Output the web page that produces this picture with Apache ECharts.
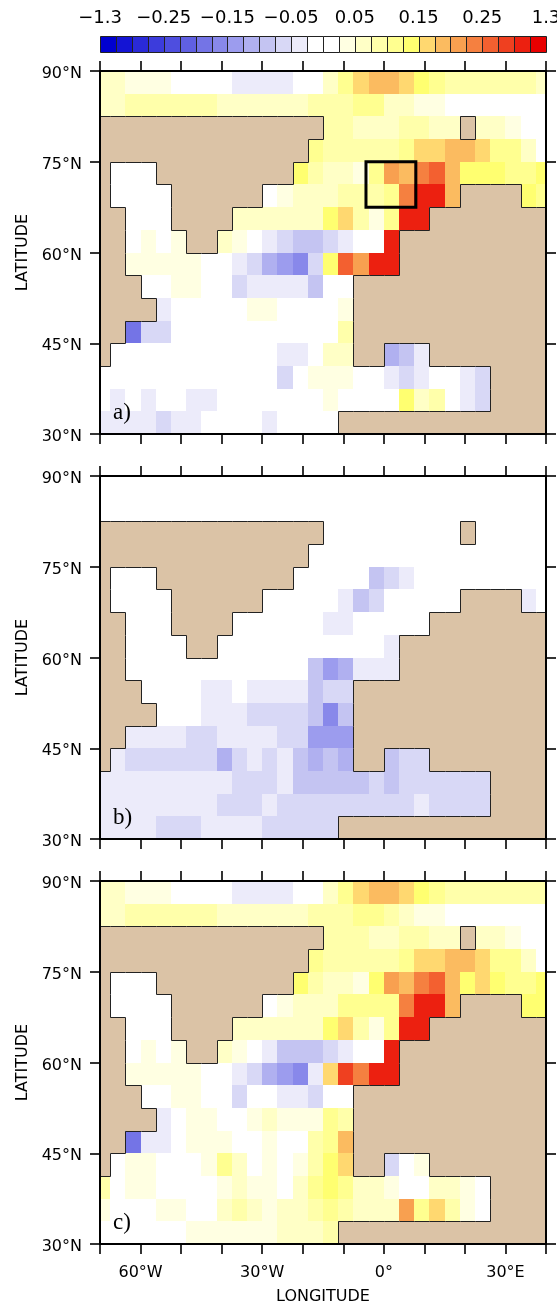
<!DOCTYPE html>
<html>
<head>
<meta charset="utf-8">
<style>html,body{margin:0;padding:0;background:#fff}#c{width:557px;height:1303px}</style>
<script src="https://cdn.jsdelivr.net/npm/echarts@6/dist/echarts.min.js"></script>
</head>
<body>
<div id="c"></div>
<script>
const L = null; // land cell
const lonEdges = [-71.25,-67.5,-63.75,-60,-56.25,-52.5,-48.75,-45,-41.25,-37.5,-33.75,-30,-26.25,-22.5,-18.75,-15,-11.25,-7.5,-3.75,0,3.75,7.5,11.25,15,18.75,22.5,26.25,30,33.75,37.5,41.25];
const latEdges = [90,86.25,82.5,78.75,75,71.25,67.5,63.75,60,56.25,52.5,48.75,45,41.25,37.5,33.75,30];
const colorbarLabels = ['\u22121.3','\u22120.25','\u22120.15','\u22120.05','0.05','0.15','0.25','1.3'];
const palette = ['#0000d0','#1414d4','#2a2ad8','#3c3cdc','#4e4edf','#6060e2','#7474e6','#8888ea','#9c9cee','#b0b0f0','#c4c4f2','#d8d8f6','#ecebfa','#ffffff','#ffffff','#ffffe2','#ffffc6','#ffffaa','#ffff90','#ffff70','#ffd870','#fbbb60','#f8a050','#f58040','#f36030','#ef4020','#ec2010','#e80000'];
const landColor = '#dbc3a6';
// values in hundredths
const panelA = [
[6,6,4,4,4,0,0,0,0,-4,-4,-4,-4,0,0,6,11,16,19,19,16,14,11,9,9,9,9,9,9,6],
[6,6,9,9,9,9,9,9,6,6,6,6,6,6,9,9,9,11,11,6,6,4,4,0,0,0,0,0,0,0],
[L,L,L,L,L,L,L,L,L,L,L,L,L,L,L,9,9,6,6,6,9,9,6,6,L,6,6,4,0,0],
[L,L,L,L,L,L,L,L,L,L,L,L,L,L,11,9,9,9,9,9,11,16,16,19,19,16,11,11,6,0],
[L,0,0,0,L,L,L,L,L,L,L,L,L,14,9,6,6,4,11,21,19,24,26,19,14,14,14,11,11,14],
[L,0,0,0,0,L,L,L,L,L,L,0,4,6,6,6,9,9,9,11,24,31,31,19,L,L,L,L,14,11],
[L,L,0,0,0,L,L,L,L,6,6,6,6,6,6,14,16,9,4,11,31,31,L,L,L,L,L,L,L,L],
[L,L,0,4,0,4,L,L,6,4,0,-4,-6,-9,-9,-6,-4,0,0,31,L,L,L,L,L,L,L,L,L,L],
[L,L,4,4,4,4,4,0,0,-4,-6,-11,-14,-16,-6,14,26,21,31,31,L,L,L,L,L,L,L,L,L,L],
[L,L,L,0,0,4,4,0,0,-6,-4,-4,-4,-4,-9,0,0,L,L,L,L,L,L,L,L,L,L,L,L,L],
[L,L,L,L,-4,0,0,0,0,0,4,4,0,0,0,0,4,L,L,L,L,L,L,L,L,L,L,L,L,L],
[L,L,-19,-6,-6,0,0,0,0,0,0,0,0,0,0,0,9,L,L,L,L,L,L,L,L,L,L,L,L,L],
[L,0,0,0,0,0,0,0,0,0,0,0,-4,-4,0,6,6,L,L,-11,-9,-4,L,L,L,L,L,L,L,L],
[0,0,0,0,0,0,0,0,0,0,0,0,-6,0,4,4,4,0,0,-4,-6,-4,0,0,-4,-6,L,L,L,L],
[0,-4,0,-4,0,0,-4,-4,0,0,0,0,0,0,0,4,0,0,0,0,14,6,9,0,-4,-6,L,L,L,L],
[-4,-4,-4,-4,-6,-4,-4,0,0,0,0,-4,0,0,0,0,L,L,L,L,L,L,L,L,L,L,L,L,L,L]
];
const panelB = [
[0,0,0,0,0,0,0,0,0,0,0,0,0,0,0,0,0,0,0,0,0,0,0,0,0,0,0,0,0,0],
[0,0,0,0,0,0,0,0,0,0,0,0,0,0,0,0,0,0,0,0,0,0,0,0,0,0,0,0,0,0],
[L,L,L,L,L,L,L,L,L,L,L,L,L,L,L,0,0,0,0,0,0,0,0,0,L,0,0,0,0,0],
[L,L,L,L,L,L,L,L,L,L,L,L,L,L,0,0,0,0,0,0,0,0,0,0,0,0,0,0,0,0],
[L,0,0,0,L,L,L,L,L,L,L,L,L,0,0,0,0,0,-9,-6,-4,0,0,0,0,0,0,0,0,0],
[L,0,0,0,0,L,L,L,L,L,L,0,0,0,0,0,-4,-9,-6,0,0,0,0,0,L,L,L,L,-4,0],
[L,L,0,0,0,L,L,L,L,0,0,0,0,0,0,-4,-4,0,0,0,0,0,L,L,L,L,L,L,L,L],
[L,L,0,0,0,0,L,L,0,0,0,0,0,0,0,0,0,0,0,-4,L,L,L,L,L,L,L,L,L,L],
[L,L,0,0,0,0,0,0,0,0,0,0,0,0,-9,-14,-11,-4,-4,-4,L,L,L,L,L,L,L,L,L,L],
[L,L,L,0,0,0,0,-4,-4,0,-4,-4,-4,-4,-9,-6,-6,L,L,L,L,L,L,L,L,L,L,L,L,L],
[L,L,L,L,0,0,0,-4,-4,-4,-6,-6,-6,-6,-9,-16,-9,L,L,L,L,L,L,L,L,L,L,L,L,L],
[L,L,-4,-4,-4,-4,-6,-6,-4,-4,-4,-4,-6,-6,-14,-14,-14,L,L,L,L,L,L,L,L,L,L,L,L,L],
[L,-4,-6,-6,-6,-6,-6,-6,-11,-6,-4,-6,-4,-9,-11,-9,-11,L,L,-9,-6,-6,L,L,L,L,L,L,L,L],
[-4,-4,-4,-4,-4,-4,-4,-4,-4,-6,-6,-6,-4,-9,-9,-9,-9,-9,-6,-9,-6,-6,-6,-6,-6,-6,L,L,L,L],
[-4,-4,-4,-4,-4,-4,-4,-4,-6,-6,-6,-4,-6,-6,-6,-6,-6,-6,-6,-6,-6,-4,-6,-6,-6,-6,L,L,L,L],
[-4,-4,-4,-4,-6,-6,-6,-4,-4,-4,-4,-6,-6,-6,-6,-6,L,L,L,L,L,L,L,L,L,L,L,L,L,L]
];
const panelC = [
[6,6,4,4,4,0,0,0,0,-4,-4,-4,-4,0,0,6,11,16,19,19,16,14,11,9,9,9,9,9,9,9],
[6,6,9,9,9,9,9,9,6,6,6,6,6,6,9,9,9,11,11,9,6,4,4,0,0,0,0,0,0,0],
[L,L,L,L,L,L,L,L,L,L,L,L,L,L,L,9,9,9,6,6,9,9,6,6,L,6,6,4,0,0],
[L,L,L,L,L,L,L,L,L,L,L,L,L,L,11,9,9,9,9,9,11,16,16,19,19,16,11,11,6,0],
[L,0,0,0,L,L,L,L,L,L,L,L,L,14,9,6,6,4,14,21,19,24,26,19,14,16,14,11,11,14],
[L,0,0,0,0,L,L,L,L,L,L,0,4,6,6,6,11,11,11,11,24,31,31,19,L,L,L,L,14,14],
[L,L,0,0,0,L,L,L,L,6,6,6,6,6,6,14,16,9,4,11,31,31,L,L,L,L,L,L,L,L],
[L,L,0,4,0,4,L,L,6,4,0,-4,-9,-9,-9,-6,-4,0,0,31,L,L,L,L,L,L,L,L,L,L],
[L,L,4,4,4,4,4,0,0,-4,-6,-11,-14,-16,-4,16,29,24,31,31,L,L,L,L,L,L,L,L,L,L],
[L,L,L,0,0,4,4,0,0,-6,0,0,-4,-4,-6,0,0,L,L,L,L,L,L,L,L,L,L,L,L,L],
[L,L,L,L,-4,0,4,4,0,0,4,6,4,4,4,11,9,L,L,L,L,L,L,L,L,L,L,L,L,L],
[L,L,-19,-4,-4,0,4,4,4,0,0,4,0,0,9,11,19,L,L,L,L,L,L,L,L,L,L,L,L,L],
[L,0,4,4,0,0,0,4,11,6,0,4,0,4,9,14,16,L,L,-6,0,4,L,L,L,L,L,L,L,L],
[9,0,4,4,0,0,0,0,4,6,4,4,0,6,11,14,11,6,6,4,0,0,6,6,4,0,L,L,L,L],
[4,0,0,0,4,4,0,0,6,9,6,4,6,6,9,11,9,6,6,6,21,11,16,9,4,0,L,L,L,L],
[0,0,0,0,0,0,4,4,4,4,4,4,6,6,6,9,L,L,L,L,L,L,L,L,L,L,L,L,L,L]
];
const panels = [panelA, panelB, panelC];
const panelTops = [71, 476, 881];
const panelLetters = ['a)', 'b)', 'c)'];
const lonTicks = {'-60':'60\u00b0W','-30':'30\u00b0W','0':'0\u00b0','30':'30\u00b0E'};
const latTicks = {90:'90\u00b0N',75:'75\u00b0N',60:'60\u00b0N',45:'45\u00b0N',30:'30\u00b0N'};
const boxRegion = [-4.4, 7.9, 67.5, 75];
const barClasses = palette.map((_, i) => i);

function boxOf(v) { return Math.max(0, Math.min(27, Math.floor(v / 2.5) + 14)); }
const labelFont = {color:'#000', fontFamily:'"DejaVu Sans"', fontSize:16};
const grid = [], xAxis = [], yAxis = [], series = [], graphic = [];
const axLine = {show:true, onZero:false, lineStyle:{color:'#000', width:2}};
const tick = {show:true, length:10, lineStyle:{color:'#000', width:1.6}};

panels.forEach((rows, p) => {
  grid.push({left:100, top:panelTops[p], width:446, height:363, containLabel:false, outerBoundsMode:'none'});
  const base = {type:'value', min:-70, max:40, interval:10, splitLine:{show:false}, axisLine:axLine, axisTick:tick, z:10, gridIndex:p};
  xAxis.push(Object.assign({}, base, {
    position:'bottom',
    axisLabel: p === 2 ? Object.assign({show:true, margin:21, formatter:v => lonTicks[v] || ''}, labelFont) : {show:false},
    name: p === 2 ? 'LONGITUDE' : '', nameLocation:'middle', nameGap:45,
    nameTextStyle:{color:'#000', fontFamily:'"DejaVu Sans"', fontSize:16}
  }));
  xAxis.push(Object.assign({}, base, {position:'top', axisLabel:{show:false}}));
  const ybase = {type:'value', min:30, max:90, interval:15, splitLine:{show:false}, axisLine:axLine, axisTick:tick, z:10, gridIndex:p};
  yAxis.push(Object.assign({}, ybase, {
    position:'left',
    axisLabel:Object.assign({show:true, margin:18, verticalAlign:'top', lineHeight:6, formatter:v => latTicks[v]}, labelFont),
    name:'LATITUDE', nameLocation:'middle', nameRotate:90, nameGap:69,
    nameTextStyle:{color:'#000', fontFamily:'"DejaVu Sans"', fontSize:16}
  }));
  yAxis.push(Object.assign({}, ybase, {position:'right', axisLabel:{show:false}}));

  const cells = [], land = [];
  rows.forEach((row, r) => row.forEach((v, c) => {
    const w = lonEdges[c], e = lonEdges[c+1], n = latEdges[r], s = latEdges[r+1];
    if (v === L) {
      const isOcean = (rr, cc) => rows[rr] && cc >= 0 && cc < row.length && rows[rr][cc] !== L;
      land.push([w, n, e, s, isOcean(r-1,c)?1:0, isOcean(r,c+1)?1:0, isOcean(r+1,c)?1:0, isOcean(r,c-1)?1:0]);
    } else cells.push([w, n, e, s, v]);
  }));
  const xi = p*2, yi = p*2;
  series.push({
    type:'custom', xAxisIndex:xi, yAxisIndex:yi, clip:true, silent:true, z:2,
    encode:{x:[0,2], y:[1,3]}, data:cells,
    renderItem(params, api) {
      const a = api.coord([api.value(0), api.value(1)]), b = api.coord([api.value(2), api.value(3)]);
      const x0 = Math.round(a[0]), y0 = Math.round(a[1]);
      return {type:'rect', shape:{x:x0, y:y0, width:Math.round(b[0])-x0, height:Math.round(b[1])-y0},
        style:{fill:palette[boxOf(api.value(4))]}};
    }
  });
  series.push({
    type:'custom', xAxisIndex:xi, yAxisIndex:yi, clip:true, silent:true, z:3,
    encode:{x:[0,2], y:[1,3]}, data:land,
    renderItem(params, api) {
      const a = api.coord([api.value(0), api.value(1)]), b = api.coord([api.value(2), api.value(3)]);
      const x0 = Math.round(a[0]), y0 = Math.round(a[1]), x1 = Math.round(b[0]), y1 = Math.round(b[1]);
      return {type:'rect', shape:{x:x0, y:y0, width:x1-x0, height:y1-y0}, style:{fill:landColor}};
    }
  });
  series.push({
    type:'custom', xAxisIndex:xi, yAxisIndex:yi, clip:true, silent:true, z:4,
    encode:{x:[0,2], y:[1,3]}, data:land,
    renderItem(params, api) {
      const a = api.coord([api.value(0), api.value(1)]), b = api.coord([api.value(2), api.value(3)]);
      const x0 = Math.round(a[0])+.5, y0 = Math.round(a[1])+.5, x1 = Math.round(b[0])+.5, y1 = Math.round(b[1])+.5;
      const segs = [];
      if (api.value(4)) segs.push([x0,y0,x1,y0]);
      if (api.value(5)) segs.push([x1,y0,x1,y1]);
      if (api.value(6)) segs.push([x0,y1,x1,y1]);
      if (api.value(7)) segs.push([x0,y0,x0,y1]);
      return {type:'group', children:segs.map(s => ({type:'line', shape:{x1:s[0],y1:s[1],x2:s[2],y2:s[3]}, style:{stroke:'#222', lineWidth:1}}))};
    }
  });
  graphic.push({type:'text', left:113, top:panelTops[p]+330, z:20,
    style:{text:panelLetters[p], fill:'#000', font:'23px "Liberation Serif"'}});
});

// the outlined box on panel a
series.push({
  type:'custom', xAxisIndex:0, yAxisIndex:0, clip:false, silent:true, z:6,
  encode:{x:[0,1], y:[2,3]}, data:[boxRegion],
  renderItem(params, api) {
    const a = api.coord([api.value(0), api.value(3)]), b = api.coord([api.value(1), api.value(2)]);
    return {type:'rect', shape:{x:a[0], y:a[1], width:b[0]-a[0], height:b[1]-a[1]},
      style:{fill:'none', stroke:'#000', lineWidth:3}};
  }
});

// colour bar
grid.push({left:100, top:36, width:446, height:16, outerBoundsMode:'none'});
xAxis.push({type:'value', gridIndex:3, min:0, max:28, interval:4, position:'top', splitLine:{show:false},
  axisLine:{show:false}, axisTick:{show:false},
  axisLabel:Object.assign({show:true, margin:9, formatter:v => colorbarLabels[v/4]}, labelFont, {fontSize:18})});
yAxis.push({type:'value', gridIndex:3, min:0, max:1, show:false});
series.push({
  type:'custom', xAxisIndex:6, yAxisIndex:6, clip:false, silent:true, z:3,
  encode:{x:0}, data:barClasses.map(k => [k, k+1, palette[k]]),
  renderItem(params, api) {
    const a = api.coord([api.value(0), 1]), b = api.coord([api.value(1), 0]);
    const x0 = Math.round(a[0])+.5, x1 = Math.round(b[0])+.5;
    return {type:'rect', shape:{x:x0, y:a[1]+.5, width:x1-x0, height:b[1]-a[1]},
      style:{fill:palette[params.dataIndex], stroke:'#222', lineWidth:1}};
  }
});

const chart = echarts.init(document.getElementById('c'), null, {renderer:'canvas', width:557, height:1303});
chart.setOption({animation:false, backgroundColor:'#fff', grid, xAxis, yAxis, series, graphic});
</script>
</body>
</html>
